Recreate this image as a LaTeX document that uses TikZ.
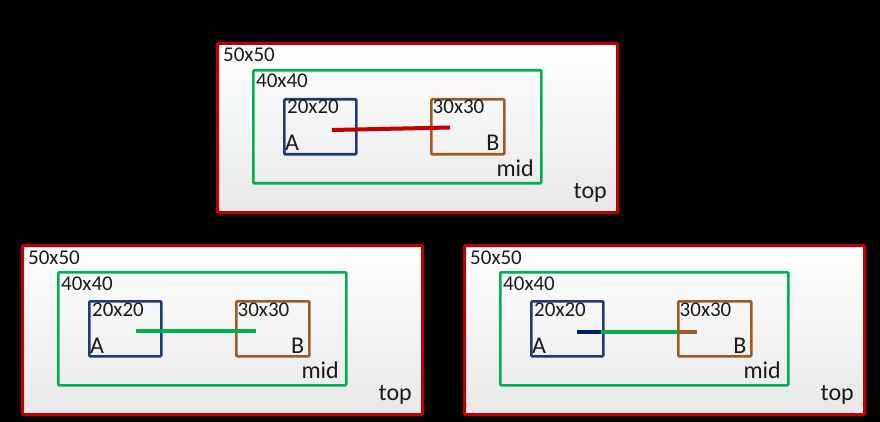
\documentclass[tikz,border=0pt]{standalone}
\usepackage{fontspec}
\setmainfont{Carlito}
\usetikzlibrary{shadows}
\definecolor{cred}{HTML}{C00000}
\definecolor{cgreen}{HTML}{00B050}
\definecolor{cnavy}{HTML}{1F3A78}
\definecolor{cdnavy}{HTML}{002060}
\definecolor{cbrown}{HTML}{9C5B25}
\definecolor{ctext}{HTML}{1A1A1A}
\newcommand\mypanel{%
  \node[outerbox] (top) at (0,0) {};
  \node[midbox] (mid) at (36,27) {};
  \node[abox] (A) at (67,56) {};
  \node[bbox] (B) at (214,56) {};
  \node[lbl] (l50) at (7,20) {50x50};
  \node[lbl] (l40) at (40,46) {40x40};
  \node[lbl] (l20) at (71,72) {20x20};
  \node[lbl] (l30) at (216.5,72) {30x30};
  \node[lbig] (lA) at (69,109) {A};
  \node[lbigr] (lB) at (283.5,109) {B};
  \node[lbigr] (lmid) at (318,134) {mid};
  \node[lbigr] (ltop) at (391,156) {top};
}
\tikzset{
  outerbox/.style={draw=cred, line width=3pt, top color=white, bottom color=black!9,
    minimum width=400pt, minimum height=169pt, anchor=north west, inner sep=0pt, rounded corners=1pt,
    drop shadow={shadow xshift=2pt, shadow yshift=-2pt, fill=black!60!red!70!black}},
  midbox/.style={draw=cgreen, line width=2.6pt, minimum width=288pt, minimum height=113pt, anchor=north west, inner sep=0pt, rounded corners=1pt},
  abox/.style={draw=cnavy, line width=2.6pt, minimum width=72pt, minimum height=55pt, anchor=north west, inner sep=0pt, rounded corners=1pt},
  bbox/.style={draw=cbrown, line width=2.6pt, minimum width=73pt, minimum height=55pt, anchor=north west, inner sep=0pt, rounded corners=1pt},
  lbl/.style={anchor=base west, inner sep=0pt, font=\fontsize{21}{25}\selectfont, text=ctext},
  lbig/.style={lbl, font=\fontsize{24}{28}\selectfont},
  lbigr/.style={lbig, anchor=base east},
  conn/.style={line width=4pt}
}
\begin{document}
\begin{tikzpicture}[x=1pt,y=-1pt]
\fill[black] (0,0) rectangle (880,422);
\useasboundingbox (0,0) rectangle (880,422);
% top panel
\begin{scope}[shift={(216,42)}, name prefix=t-]
  \mypanel
  \coordinate (s) at (116,88);
  \coordinate (e) at (234,85.5);
  \draw[conn, cred] (s) -- (e);
\end{scope}
% bottom-left panel
\begin{scope}[shift={(21,244)}, name prefix=l-]
  \mypanel
  \coordinate (s) at (115,87);
  \coordinate (e) at (235,87);
  \draw[conn, cgreen] (s) -- (e);
\end{scope}
% bottom-right panel
\begin{scope}[shift={(463,244)}, name prefix=r-]
  \mypanel
  \coordinate (s) at (114,88);
  \coordinate (e) at (234,88);
  \coordinate (ae) at (138,88);
  \coordinate (bw) at (215,88);
  \draw[conn, cdnavy] (s) -- (ae);
  \draw[conn, cgreen] (ae) -- (bw);
  \draw[conn, cbrown] (bw) -- (e);
\end{scope}
\end{tikzpicture}
\end{document}
